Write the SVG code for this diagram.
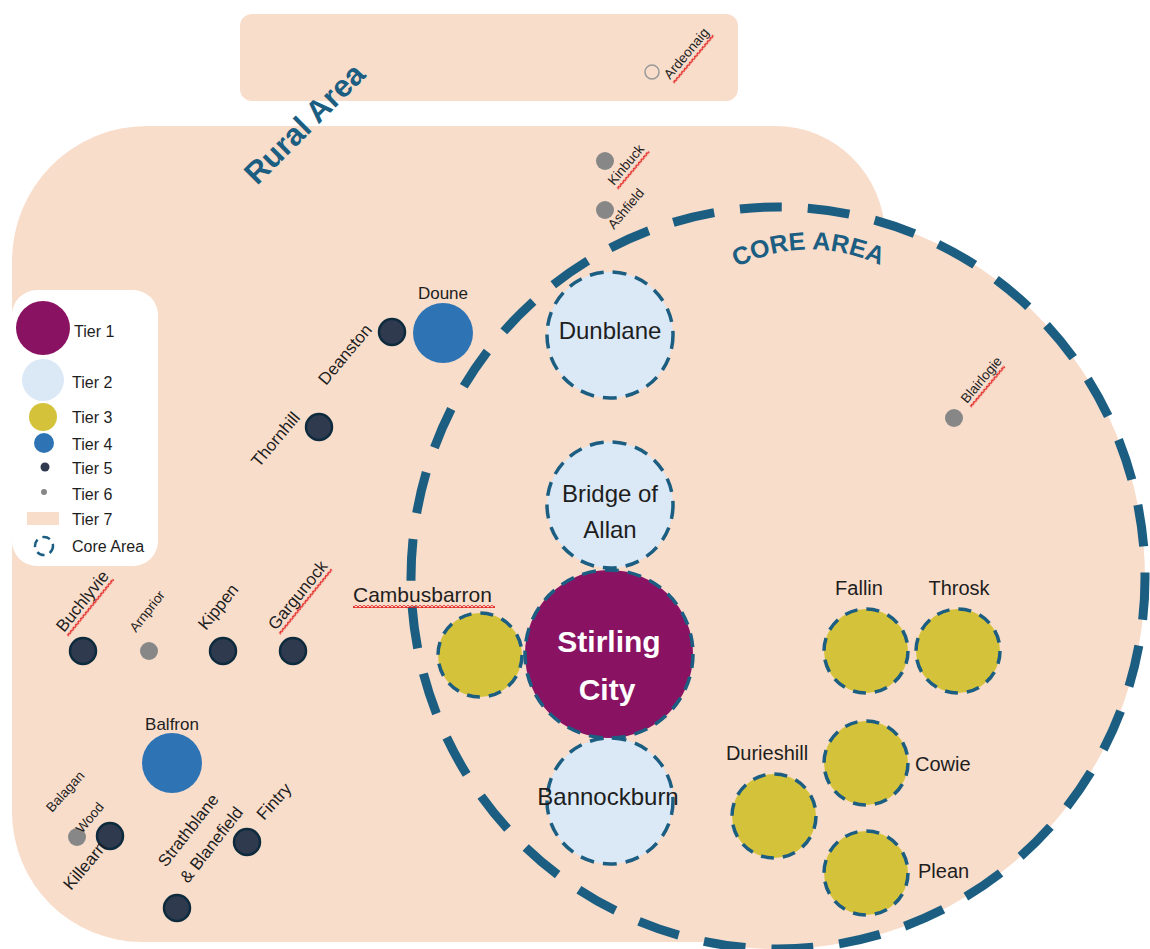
<svg xmlns="http://www.w3.org/2000/svg" width="1150" height="949" viewBox="0 0 1150 949">
<style>
text{font-family:"Liberation Sans",Arial,sans-serif;fill:#1e1e1e}
.area{fill:#F9DDCB}
.core{fill:none;stroke:#1B5E82;stroke-width:9;stroke-dasharray:42 26}
.t1{fill:#8A1263;stroke:#1B5E82;stroke-width:3.5;stroke-dasharray:14 9}
.t2{fill:#DBE8F6;stroke:#1B5E82;stroke-width:3.5;stroke-dasharray:14 9}
.t3{fill:#D5C23B;stroke:#1B5E82;stroke-width:3.5;stroke-dasharray:13 9}
.t4{fill:#2E74B5}
.t5{fill:#2F3A4F;stroke:#0E2B3E;stroke-width:2.5}
.t6{fill:#878787}
.lbl{font-size:17px}
.sm{font-size:13.5px}
.big{font-size:24px;text-anchor:middle}
.mid{font-size:20px}
.leg{font-size:16px}
.head{font-weight:bold;fill:#1B5E82}
.sq{fill:url(#squiggle)}
</style>
<defs>
<pattern id="squiggle" width="4" height="3" patternUnits="userSpaceOnUse">
<path d="M0 2.5 L2 0.5 L4 2.5" fill="none" stroke="#E01818" stroke-width="1.2"/>
</pattern>
</defs>

<g id="areas">
<rect id="ardeonaig-area" class="area" x="240" y="14" width="498" height="87" rx="12"/>
<path id="rural-area" class="area" d="M147 126 H775 A110 110 0 0 1 885 236 V800 L760 942 H142 A130 130 0 0 1 12 812 V261 A135 135 0 0 1 147 126 Z"/>
<ellipse id="core-fill" class="area" cx="778" cy="578" rx="367" ry="371"/>
<ellipse id="core-outline" class="core" cx="778" cy="578" rx="367" ry="371"/>
<text class="head" font-size="31" text-anchor="middle" transform="translate(312 131) rotate(-45)">Rural Area</text>
<path id="corearc" d="M735 268 Q808 232 882 266" fill="none"/>
<text class="head" font-size="25"><textPath href="#corearc" startOffset="50%" text-anchor="middle">CORE AREA</textPath></text>
</g>

<g id="connectors"></g>

<g id="legend">
<rect x="12" y="290" width="146" height="276" rx="25" fill="#ffffff"/>
<circle cx="43" cy="328" r="27" fill="#8A1263"/>
<text class="leg" x="74" y="337">Tier 1</text>
<circle cx="43" cy="380" r="21" fill="#DBE8F6"/>
<text class="leg" x="72" y="388">Tier 2</text>
<circle cx="43" cy="417" r="14" fill="#D5C23B"/>
<text class="leg" x="72" y="423">Tier 3</text>
<circle cx="44" cy="443" r="10" fill="#2E74B5"/>
<text class="leg" x="72" y="450">Tier 4</text>
<circle cx="45" cy="467" r="4.5" fill="#2F3A4F"/>
<text class="leg" x="72" y="474">Tier 5</text>
<circle cx="44" cy="492" r="3" fill="#878787"/>
<text class="leg" x="72" y="500">Tier 6</text>
<rect x="27" y="512" width="32" height="13" fill="#F9DDCB"/>
<text class="leg" x="72" y="525">Tier 7</text>
<circle cx="44" cy="546" r="9" fill="none" stroke="#1B5E82" stroke-width="2.5" stroke-dasharray="8 5.5"/>
<text class="leg" x="72" y="552">Core Area</text>
</g>

<g id="node-ardeonaig">
<circle cx="652" cy="72" r="7" fill="#F9DDCB" stroke="#999" stroke-width="1.5"/>
<g transform="translate(670 80) rotate(-50)"><text class="sm">Ardeonaig</text><rect class="sq" x="0" y="3" width="62" height="3"/></g>
</g>
<g id="node-kinbuck">
<circle class="t6" cx="605" cy="161" r="9"/>
<g transform="translate(614 186) rotate(-50)"><text class="sm">Kinbuck</text><rect class="sq" x="0" y="3" width="49" height="3"/></g>
</g>
<g id="node-ashfield">
<circle class="t6" cx="605" cy="210" r="9"/>
<g transform="translate(614 230) rotate(-50)"><text class="sm">Ashfield</text></g>
</g>
<g id="node-blairlogie">
<circle class="t6" cx="954" cy="418" r="9"/>
<g transform="translate(967 404) rotate(-50)"><text class="sm" font-size="13">Blairlogie</text><rect class="sq" x="0" y="3" width="53" height="3"/></g>
</g>

<g id="node-doune">
<circle class="t4" cx="443" cy="333" r="30"/>
<text class="lbl" x="443" y="299" text-anchor="middle">Doune</text>
</g>
<g id="node-deanston">
<circle class="t5" cx="392" cy="332" r="13"/>
<text class="lbl" transform="translate(326 386) rotate(-50)">Deanston</text>
</g>
<g id="node-thornhill">
<circle class="t5" cx="319" cy="427" r="13"/>
<text class="lbl" transform="translate(259 468) rotate(-50)">Thornhill</text>
</g>

<g id="node-buchlyvie">
<circle class="t5" cx="83" cy="651" r="13"/>
<g transform="translate(64 633) rotate(-51)"><text class="lbl">Buchlyvie</text><rect class="sq" x="0" y="3" width="73" height="3"/></g>
</g>
<g id="node-arnprior">
<circle class="t6" cx="149" cy="651" r="9"/>
<text class="sm" font-size="13" transform="translate(136 633) rotate(-52)">Arnprior</text>
</g>
<g id="node-kippen">
<circle class="t5" cx="223" cy="651" r="13"/>
<text class="lbl" transform="translate(206 631) rotate(-51)">Kippen</text>
</g>
<g id="node-gargunock">
<circle class="t5" cx="293" cy="651" r="13"/>
<g transform="translate(276 631) rotate(-51)"><text class="lbl">Gargunock</text><rect class="sq" x="0" y="3" width="83" height="3"/></g>
</g>

<g id="node-balfron">
<circle class="t4" cx="172" cy="763" r="30"/>
<text class="lbl" x="172" y="730" text-anchor="middle">Balfron</text>
</g>
<g id="node-balagan-wood">
<circle class="t6" cx="77" cy="837" r="9"/>
<text class="sm" font-size="12.5" transform="translate(52 813) rotate(-48)">Balagan</text>
<text class="sm" font-size="14.5" transform="translate(82 834) rotate(-50)">Wood</text>
</g>
<g id="node-killearn">
<circle class="t5" cx="110" cy="836" r="13"/>
<text class="lbl" transform="translate(71 891) rotate(-50)">Killearn</text>
</g>
<g id="node-strathblane">
<circle class="t5" cx="177" cy="908" r="13"/>
<text class="lbl" transform="translate(166 868) rotate(-52)">Strathblane</text>
<text class="lbl" transform="translate(188 884) rotate(-52)">&amp; Blanefield</text>
</g>
<g id="node-fintry">
<circle class="t5" cx="247" cy="842" r="13"/>
<text class="lbl" transform="translate(264 821) rotate(-48)">Fintry</text>
</g>

<g id="node-dunblane">
<circle class="t2" cx="610" cy="335" r="63"/>
<text class="big" x="610" y="339">Dunblane</text>
</g>
<g id="node-bridge-of-allan">
<circle class="t2" cx="610" cy="505" r="63"/>
<text class="big" x="610" y="502">Bridge of</text>
<text class="big" x="610" y="538">Allan</text>
</g>
<g id="node-bannockburn">
<circle class="t2" cx="610" cy="801" r="63"/>
<text class="big" x="608" y="805">Bannockburn</text>
</g>
<g id="node-cambusbarron">
<circle class="t3" cx="480" cy="655" r="42"/>
<text font-size="21" x="353" y="602">Cambusbarron</text>
<rect class="sq" x="353" y="605" width="142" height="3"/>
</g>
<g id="node-stirling">
<circle class="t1" cx="609" cy="654" r="84"/>
<text x="609" y="652" font-size="30" font-weight="bold" text-anchor="middle" style="fill:#ffffff">Stirling</text>
<text x="607" y="700" font-size="30" font-weight="bold" text-anchor="middle" style="fill:#ffffff">City</text>
</g>

<g id="node-fallin">
<circle class="t3" cx="866" cy="651" r="42"/>
<text class="mid" x="859" y="595" text-anchor="middle">Fallin</text>
</g>
<g id="node-throsk">
<circle class="t3" cx="958" cy="651" r="42"/>
<text class="mid" x="959" y="595" text-anchor="middle">Throsk</text>
</g>
<g id="node-cowie">
<circle class="t3" cx="866" cy="763" r="42"/>
<text class="mid" x="915" y="771">Cowie</text>
</g>
<g id="node-durieshill">
<circle class="t3" cx="774" cy="816" r="42"/>
<text class="mid" x="767" y="760" text-anchor="middle">Durieshill</text>
</g>
<g id="node-plean">
<circle class="t3" cx="866" cy="873" r="42"/>
<text class="mid" x="918" y="878">Plean</text>
</g>
</svg>
